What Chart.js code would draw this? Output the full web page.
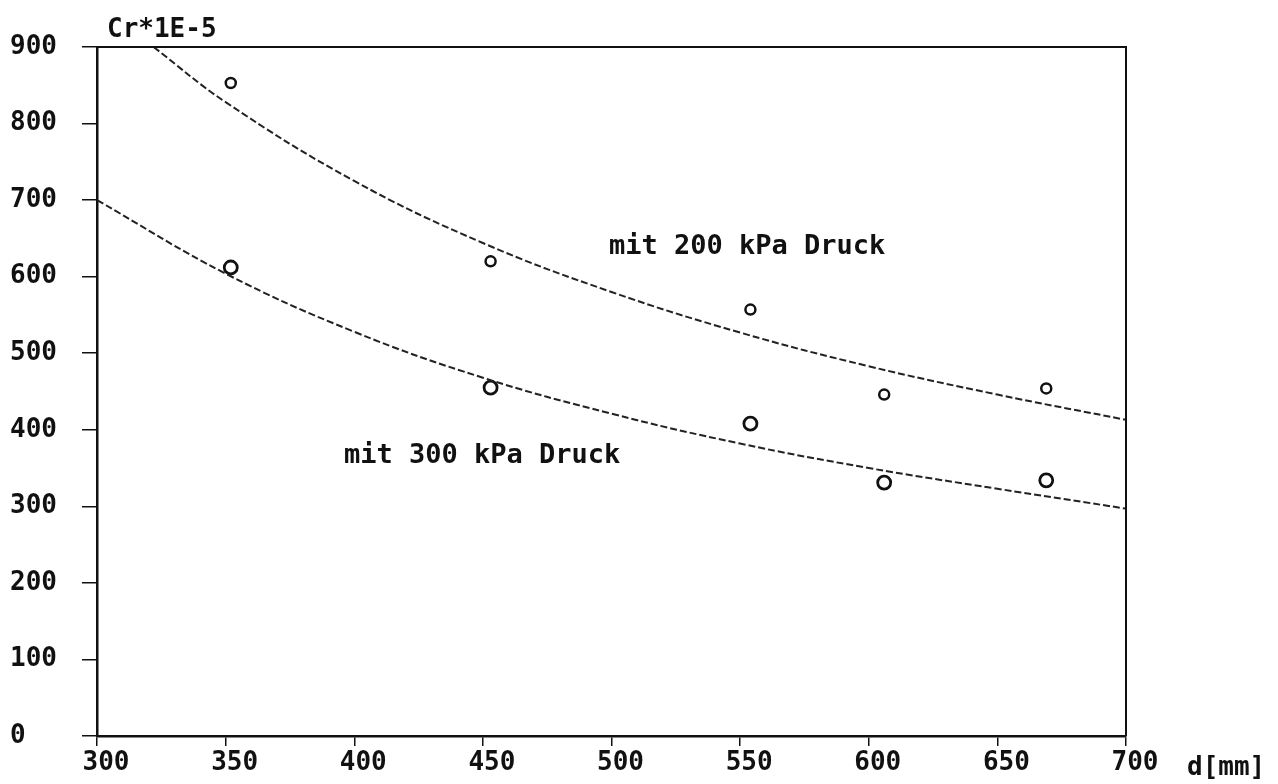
<!DOCTYPE html>
<html>
<head>
<meta charset="utf-8">
<script src="https://cdn.jsdelivr.net/npm/chart.js@4/dist/chart.umd.min.js"></script>
<style>
  body { margin: 0; background: #fff; }
  #wrap { width: 1278px; height: 784px; }
</style>
</head>
<body>
<div id="wrap"><canvas id="myChart"></canvas></div>
<script>
// measured points (d in mm, Cr*1E-5)
var dPuntos = [352, 453, 554, 606, 669];
var cr200 = [853, 620, 557, 446, 454];
var cr300 = [612, 455, 408, 331, 334];

// fitted curves
var dKurve200 = [322, 350, 400, 450, 500, 550, 600, 650, 700];
var kurve200 = [900, 828, 725, 644, 580, 527, 483, 446, 413];
var dKurve300 = [300, 350, 400, 450, 500, 550, 600, 650, 700];
var kurve300 = [700, 604, 528, 468, 421, 382, 350, 323, 297];

var xTicks = [300, 350, 400, 450, 500, 550, 600, 650, 700];
var yTicks = [0, 100, 200, 300, 400, 500, 600, 700, 800, 900];

// label texts and where they sit (data units)
var etiquetas = ['mit 200 kPa Druck', 'mit 300 kPa Druck'];
var etiquetaX = [499, 396];
var etiquetaY = [639, 366];

function pares(xs, ys) {
  return xs.map(function (x, i) { return { x: x, y: ys[i] }; });
}

var fuente = '"DejaVu Sans Mono", "Liberation Mono", monospace';

var marco = {
  id: 'marco',
  afterDraw: function (chart) {
    var c = chart.ctx, a = chart.chartArea;
    var sx = chart.scales.x, sy = chart.scales.y;
    c.save();
    c.strokeStyle = '#111';
    c.lineWidth = 2;
    c.beginPath();
    c.moveTo(a.left, a.top);
    c.lineTo(a.right, a.top);
    c.lineTo(a.right, a.bottom);
    c.stroke();
    c.fillStyle = '#111';
    c.font = 'bold 26px ' + fuente;
    c.textBaseline = 'alphabetic';
    c.textAlign = 'left';
    c.fillText('Cr*1E-5', a.left + 10, a.top - 10);
    c.fillText('d[mm]', a.right + 61, a.bottom + 39);
    c.font = 'bold 27px ' + fuente;
    c.textBaseline = 'middle';
    etiquetas.forEach(function (t, i) {
      c.fillText(t, sx.getPixelForValue(etiquetaX[i]), sy.getPixelForValue(etiquetaY[i]));
    });
    c.restore();
  }
};

var ctx = document.getElementById('myChart').getContext('2d');
var myChart = new Chart(ctx, {
  type: 'scatter',
  data: {
    datasets: [{
      label: 'Kurve 200 kPa',
      type: 'line',
      data: pares(dKurve200, kurve200),
      borderColor: '#222',
      borderWidth: 2,
      borderDash: [7, 3],
      pointRadius: 0,
      tension: 0.4,
      fill: false
    },
    {
      label: 'Kurve 300 kPa',
      type: 'line',
      data: pares(dKurve300, kurve300),
      borderColor: '#222',
      borderWidth: 2,
      borderDash: [7, 3],
      pointRadius: 0,
      tension: 0.4,
      fill: false
    },
    {
      label: '200 kPa',
      data: pares(dPuntos, cr200),
      pointRadius: 5,
      pointBorderWidth: 2.5,
      borderColor: '#111',
      backgroundColor: '#fff'
    },
    {
      label: '300 kPa',
      data: pares(dPuntos, cr300),
      pointRadius: 6.5,
      pointBorderWidth: 2.8,
      borderColor: '#111',
      backgroundColor: '#fff'
    }]
  },
  options: {
    responsive: true,
    maintainAspectRatio: false,
    animation: false,
    layout: { padding: { left: 10, right: 152, top: 47, bottom: 0 } },
    plugins: {
      legend: { display: false },
      tooltip: { enabled: false }
    },
    scales: {
      x: {
        type: 'linear',
        min: 300,
        max: 700,
        afterBuildTicks: function (ax) { ax.ticks = xTicks.map(function (v) { return { value: v }; }); },
        afterFit: function (ax) { ax.height = 48; },
        grid: { drawOnChartArea: false, drawTicks: true, tickLength: 10, color: '#111', lineWidth: 1.5 },
        border: { color: '#111', width: 2.5 },
        ticks: {
          color: '#111',
          font: { family: fuente, size: 26, weight: 'bold' },
          padding: 2,
          labelOffset: 9,
          maxRotation: 0
        }
      },
      y: {
        min: 0,
        max: 900,
        afterBuildTicks: function (ax) { ax.ticks = yTicks.map(function (v) { return { value: v }; }); },
        afterFit: function (ax) { ax.width = 87; },
        grid: { drawOnChartArea: false, drawTicks: true, tickLength: 15, color: '#111', lineWidth: 1.5 },
        border: { color: '#111', width: 2.5 },
        ticks: {
          color: '#111',
          crossAlign: 'far',
          font: { family: fuente, size: 26, weight: 'bold' }
        }
      }
    }
  },
  plugins: [marco]
});
</script>
</body>
</html>
